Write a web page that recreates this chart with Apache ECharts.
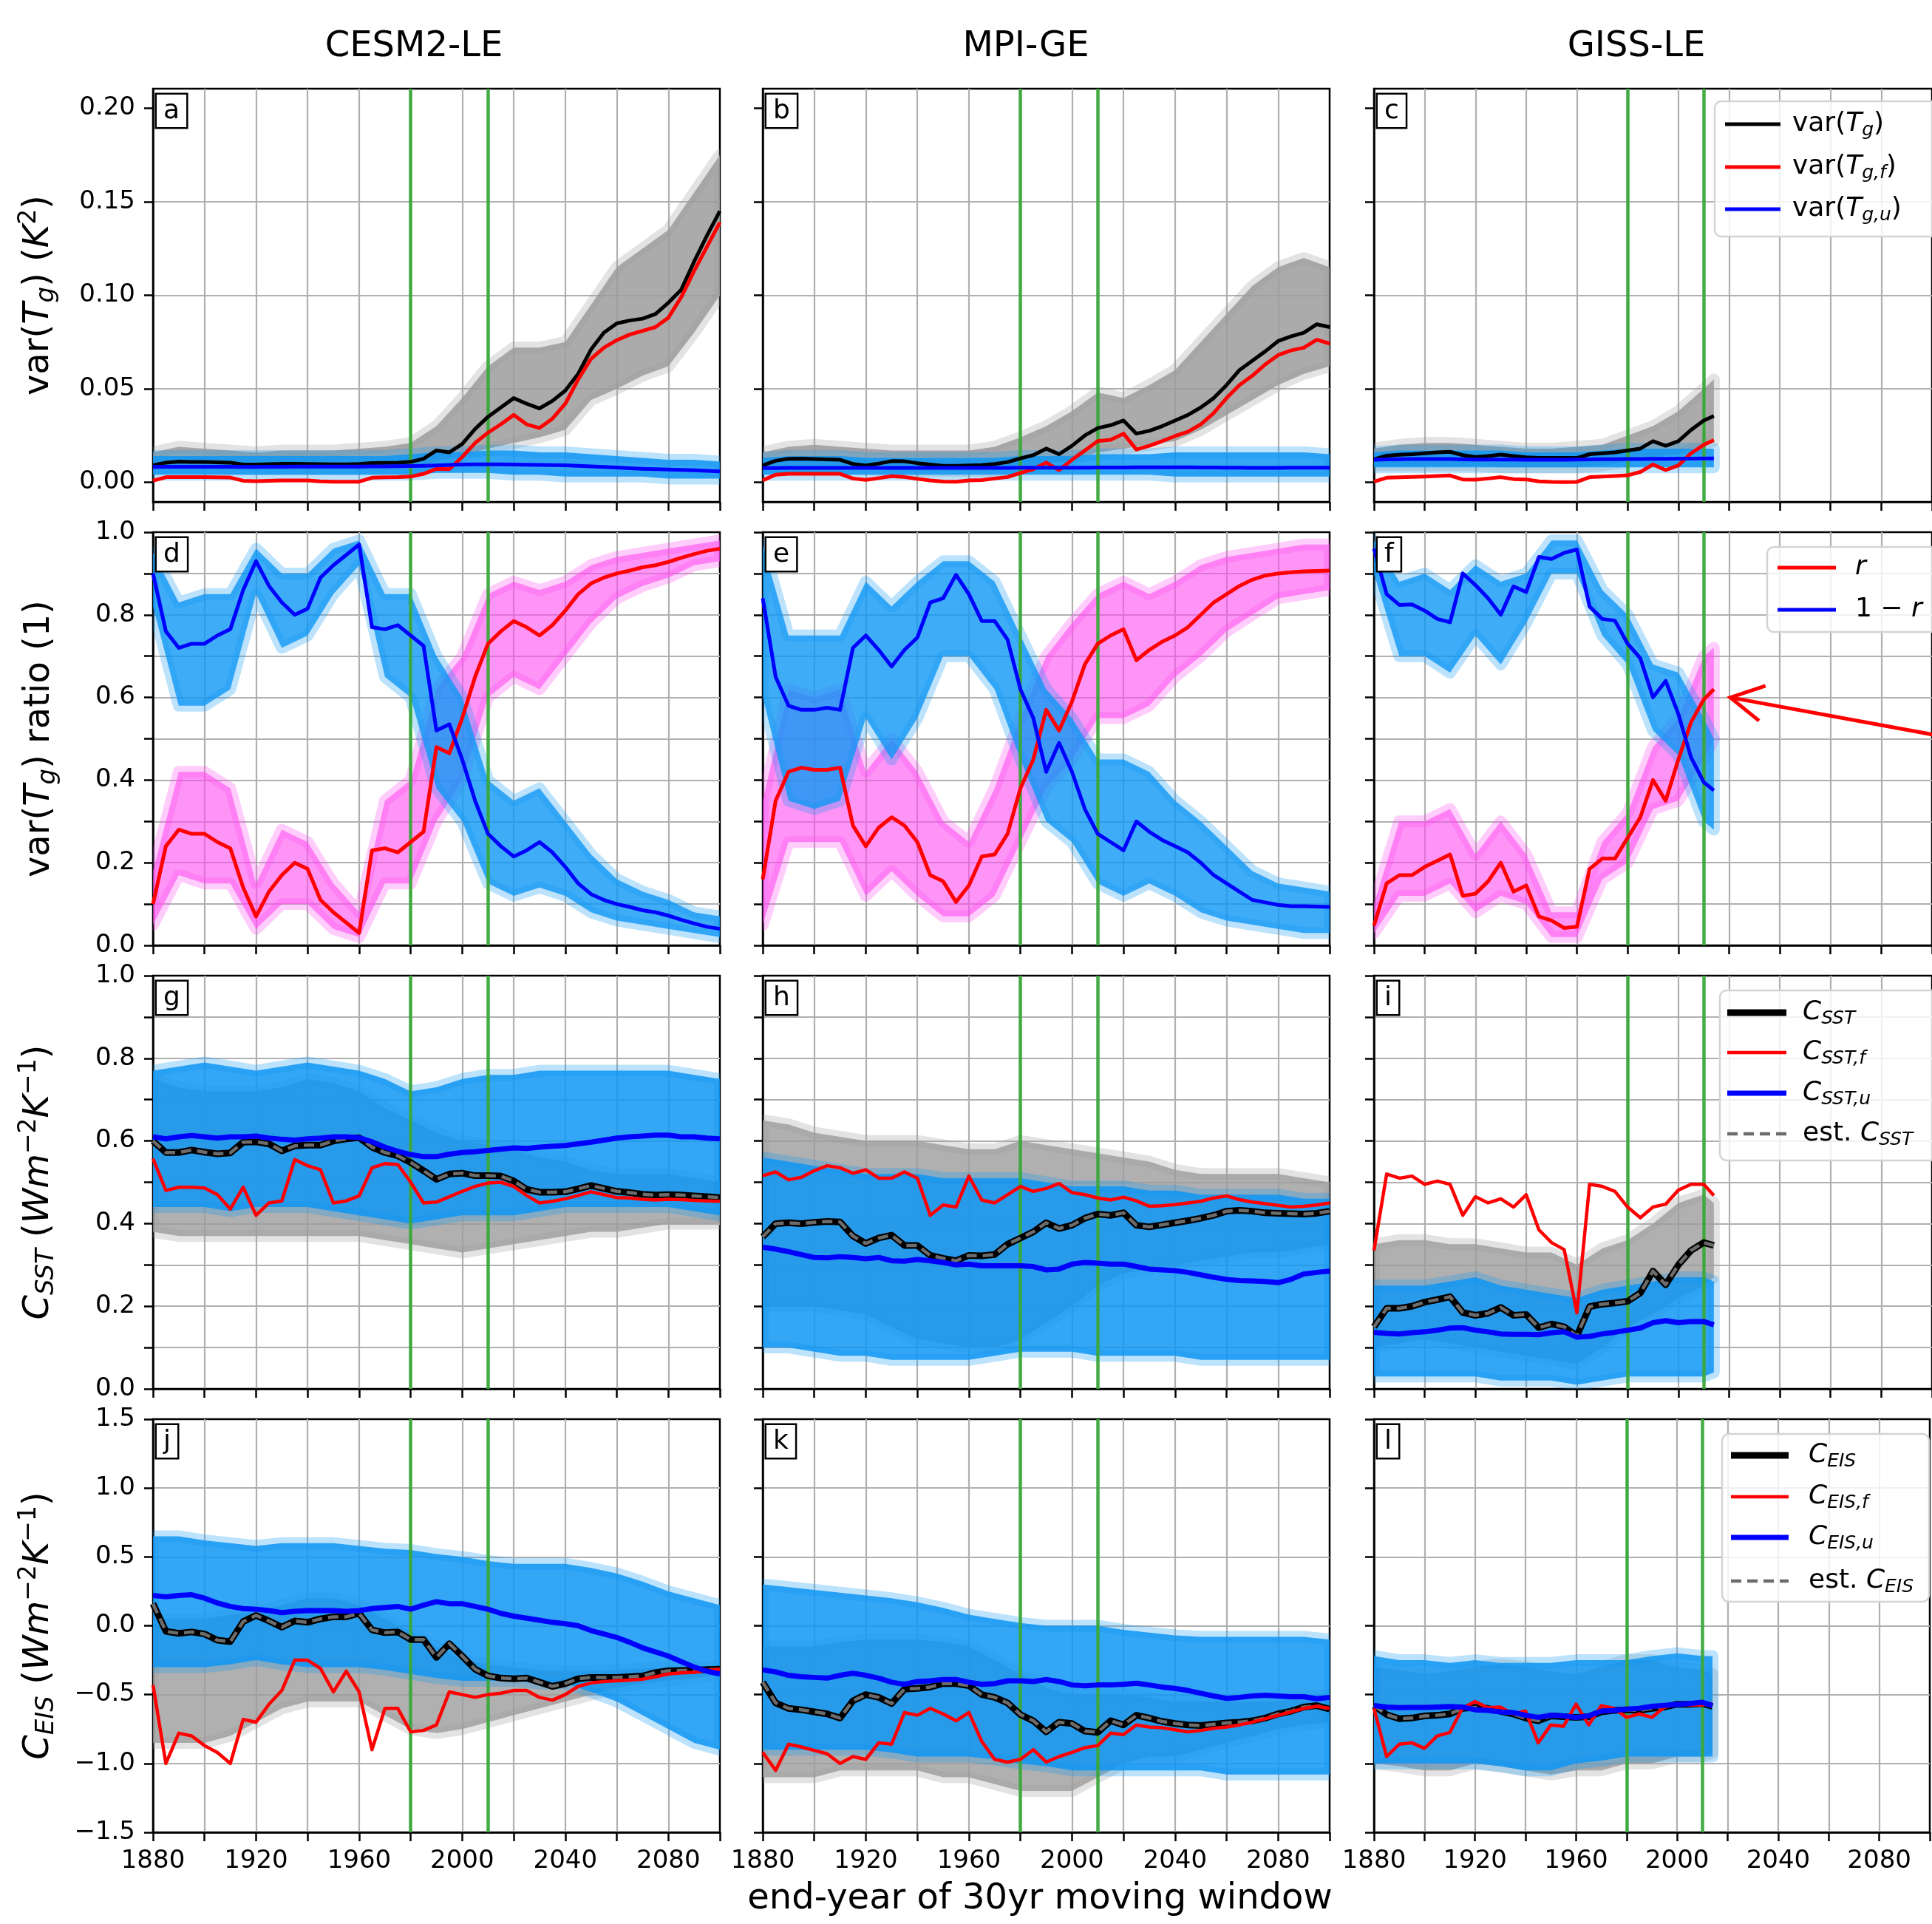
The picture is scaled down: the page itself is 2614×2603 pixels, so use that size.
<!DOCTYPE html>
<html>
<head>
<meta charset="utf-8">
<script src="https://cdn.jsdelivr.net/npm/echarts@6/dist/echarts.min.js"></script>
<style>
html,body{margin:0;padding:0;background:#fff}
#chart{width:2614px;height:2603px}
</style>
</head>
<body>
<div id="chart"></div>
<script>
// years of the ensemble-mean curves (5-yr steps) and of the member envelopes (10-yr steps)
var YEARS = [1880,1885,1890,1895,1900,1905,1910,1915,1920,1925,1930,1935,1940,1945,1950,1955,1960,1965,1970,1975,1980,1985,1990,1995,2000,2005,2010,2015,2020,2025,2030,2035,2040,2045,2050,2055,2060,2065,2070,2075,2080,2085,2090,2095,2100];
var YEARS_GISS = [1880,1885,1890,1895,1900,1905,1910,1915,1920,1925,1930,1935,1940,1945,1950,1955,1960,1965,1970,1975,1980,1985,1990,1995,2000,2005,2010,2014];
var BAND_YEARS = [1880,1890,1900,1910,1920,1930,1940,1950,1960,1970,1980,1990,2000,2010,2020,2030,2040,2050,2060,2070,2080,2090,2100];
var BAND_YEARS_GISS = [1880,1890,1900,1910,1920,1930,1940,1950,1960,1970,1980,1990,2000,2010,2014];
var REF_YEARS = [1980, 2010];
var X_TICKS_LABELLED = [1880,1920,1960,2000,2040,2080];

// ---- row 1: var(Tg)
var A_TG  = [.0091,.0105,.0110,.0108,.0108, .0107,.0105,.0095,.0095,.0097, .0099,.0099,.0098,.0097,.0096, .0096,.0098,.0103,.0104,.0105, .0109,.0126,.0170,.0160,.0205, .0285,.0350,.0400,.0450,.0420, .0395,.0435,.0490,.0580,.0710, .0800,.0850,.0865,.0875,.0900, .0960,.1030,.1180,.1320,.1450];
var A_TGF = [.0008,.0027,.0027,.0027,.0027, .0026,.0025,.0008,.0006,.0008, .0010,.0010,.0010,.0005,.0003, .0003,.0003,.0024,.0026,.0027, .0030,.0045,.0072,.0070,.0135, .0210,.0265,.0310,.0360,.0310, .0290,.0340,.0420,.0550,.0660, .0720,.0760,.0790,.0810,.0830, .0880,.0990,.1130,.1260,.1390];
var A_TGU = [.0082,.0083,.0083,.0083,.0083, .0083,.0083,.0082,.0082,.0083, .0083,.0084,.0084,.0084,.0084, .0084,.0084,.0085,.0085,.0086, .0087,.0088,.0090,.0093,.0095, .0096,.0096,.0096,.0095,.0094, .0093,.0092,.0091,.0088,.0085, .0082,.0079,.0075,.0072,.0070, .0068,.0066,.0064,.0061,.0058];
var A_GRAY_LO = [.007,.008,.008,.007,.007,.007,.007,.007,.007,.008,.008,.011,.014,.018,.021,.024,.028,.044,.05,.057,.062,.08,.10];
var A_GRAY_HI = [.016,.019,.018,.017,.016,.017,.017,.017,.018,.019,.021,.03,.045,.062,.072,.072,.075,.095,.115,.125,.135,.155,.175];
var A_BLUE_LO = [.004,.004,.004,.004,.004,.004,.004,.004,.004,.004,.004,.005,.005,.005,.004,.004,.003,.003,.003,.003,.002,.002,.002];
var A_BLUE_HI = [.014,.014,.014,.014,.014,.014,.014,.014,.014,.014,.015,.016,.016,.017,.017,.016,.016,.015,.014,.013,.012,.012,.011];

var B_TG  = [.0090,.0115,.0125,.0126,.0124, .0122,.0120,.0098,.0090,.0100, .0113,.0112,.0102,.0095,.0088, .0088,.0090,.0092,.0098,.0108, .0128,.0145,.0180,.0150,.0195, .0250,.0290,.0305,.0330,.0260, .0275,.0300,.0330,.0360,.0400, .0450,.0520,.0600,.0650,.0700, .0755,.0780,.0800,.0845,.0830];
var B_TGF = [.0010,.0040,.0045,.0045,.0045, .0045,.0045,.0020,.0013,.0022, .0032,.0028,.0018,.0010,.0004, .0003,.0010,.0012,.0020,.0028, .0050,.0070,.0105,.0065,.0120, .0170,.0220,.0227,.0260,.0175, .0195,.0220,.0247,.0270,.0310, .0370,.0450,.0520,.0570,.0630, .0680,.0705,.0720,.0762,.0742];
var B_TGU = [.0076,.0076,.0077,.0077,.0077, .0077,.0077,.0077,.0077,.0077, .0077,.0077,.0077,.0077,.0077, .0077,.0077,.0077,.0077,.0077, .0078,.0078,.0078,.0078,.0078, .0078,.0079,.0079,.0079,.0080, .0080,.0080,.0080,.0080,.0079, .0079,.0078,.0078,.0077,.0077, .0077,.0078,.0078,.0078,.0078];
var B_GRAY_LO = [.007,.008,.008,.007,.007,.006,.006,.006,.006,.006,.008,.01,.012,.016,.018,.02,.022,.028,.036,.044,.052,.058,.062];
var B_GRAY_HI = [.016,.019,.02,.019,.018,.017,.017,.017,.017,.019,.024,.03,.038,.048,.045,.052,.06,.075,.09,.105,.115,.12,.115];
var B_BLUE_LO = [.004,.004,.004,.004,.004,.004,.004,.004,.004,.004,.004,.004,.004,.004,.004,.004,.003,.003,.003,.003,.003,.003,.003];
var B_BLUE_HI = [.013,.014,.014,.014,.013,.013,.013,.013,.013,.013,.014,.014,.014,.015,.015,.015,.016,.016,.016,.016,.016,.016,.015];

var C_TG  = [.0123,.0142,.0147,.0150,.0155, .0160,.0163,.0145,.0135,.0140, .0148,.0140,.0133,.0130,.0130, .0130,.0130,.0150,.0155,.0160, .0170,.0180,.0220,.0195,.0220, .0280,.0330,.0355];
var C_TGF = [.0003,.0024,.0026,.0028,.0030, .0033,.0036,.0015,.0014,.0020, .0027,.0017,.0015,.0005,.0002, .0001,.0002,.0027,.0030,.0033, .0037,.0055,.0095,.0065,.0090, .0155,.0200,.0225];
var C_TGU = [.0120,.0122,.0123,.0124,.0124, .0124,.0124,.0122,.0121,.0121, .0121,.0121,.0120,.0120,.0120, .0120,.0121,.0122,.0123,.0123, .0124,.0124,.0125,.0125,.0126, .0126,.0127,.0127];
var C_GRAY_LO = [.009,.009,.009,.009,.009,.008,.008,.008,.008,.009,.011,.013,.015,.02,.022];
var C_GRAY_HI = [.018,.02,.021,.021,.02,.019,.018,.018,.019,.02,.025,.03,.038,.05,.055];
var C_BLUE_LO = [.008,.008,.008,.008,.008,.008,.008,.008,.008,.008,.008,.008,.008,.008,.008];
var C_BLUE_HI = [.016,.017,.017,.017,.017,.017,.016,.016,.016,.017,.018,.018,.018,.018,.018];

// ---- row 2: ratio r and 1-r
var D_R  = [.10,.24,.28,.27,.27, .25,.235,.14,.07,.13, .17,.20,.185,.11,.08, .055,.03,.23,.235,.225, .25,.275,.48,.465,.55, .65,.73,.76,.785,.77, .75,.775,.81,.85,.876, .89,.90,.907,.915,.92, .928,.938,.947,.955,.96];
var D_1R = [.90,.76,.72,.73,.73, .75,.765,.86,.93,.87, .83,.80,.815,.89,.92, .945,.97,.77,.765,.775, .75,.725,.52,.535,.45, .35,.27,.24,.215,.23, .25,.225,.19,.15,.124, .11,.10,.093,.085,.08, .072,.062,.053,.045,.04];
var D_BLUE_LO = [.82,.58,.58,.62,.85,.72,.75,.85,.92,.65,.6,.38,.3,.15,.12,.14,.12,.08,.06,.05,.04,.03,.02];
var D_BLUE_HI = [.95,.83,.85,.85,.96,.9,.9,.96,.98,.85,.85,.7,.6,.4,.35,.38,.3,.22,.16,.13,.11,.08,.07];
var D_PINK_LO = [.05,.17,.15,.15,.04,.1,.1,.04,.02,.15,.15,.3,.4,.6,.65,.62,.7,.78,.84,.87,.89,.92,.93];
var D_PINK_HI = [.18,.42,.42,.38,.15,.28,.25,.15,.08,.35,.4,.62,.7,.85,.88,.86,.88,.92,.94,.95,.96,.97,.98];

var E_R  = [.16,.35,.42,.43,.425, .425,.43,.29,.24,.285, .31,.29,.25,.17,.155, .105,.145,.215,.22,.27, .38,.45,.57,.52,.59, .68,.73,.75,.765,.69, .715,.735,.75,.77,.80, .83,.85,.87,.885,.895, .90,.903,.905,.906,.907];
var E_1R = [.84,.65,.58,.57,.57, .575,.57,.72,.75,.715, .675,.715,.745,.83,.84, .897,.85,.785,.785,.74, .62,.55,.42,.49,.42, .33,.27,.25,.23,.30, .275,.255,.24,.225,.20, .17,.15,.13,.11,.104, .098,.095,.095,.094,.093];
var E_BLUE_LO = [.6,.35,.33,.35,.55,.45,.55,.7,.7,.62,.45,.3,.25,.15,.12,.15,.12,.08,.06,.05,.04,.03,.03];
var E_BLUE_HI = [.97,.75,.75,.75,.88,.82,.88,.93,.93,.88,.75,.62,.55,.45,.45,.42,.35,.3,.24,.18,.15,.14,.13];
var E_PINK_LO = [.05,.25,.25,.25,.12,.18,.12,.07,.07,.12,.25,.38,.45,.55,.55,.58,.65,.7,.76,.8,.84,.85,.86];
var E_PINK_HI = [.35,.62,.6,.62,.42,.5,.42,.3,.25,.38,.55,.7,.78,.85,.88,.85,.88,.92,.94,.95,.96,.97,.97];

var F_R  = [.048,.15,.17,.17,.19, .205,.22,.12,.125,.155, .20,.13,.145,.07,.06, .042,.045,.185,.21,.21, .26,.31,.40,.35,.45, .54,.595,.62];
var F_1R = [.96,.85,.824,.825,.81, .79,.782,.90,.872,.84, .80,.869,.855,.94,.935, .95,.958,.82,.79,.786, .73,.695,.60,.64,.56, .455,.395,.375];
var F_BLUE_LO = [.9,.7,.7,.66,.75,.68,.78,.9,.9,.75,.68,.52,.46,.3,.28];
var F_BLUE_HI = [.98,.88,.9,.86,.92,.88,.9,.98,.98,.86,.8,.68,.66,.55,.5];
var F_PINK_LO = [.03,.12,.12,.15,.08,.12,.1,.02,.02,.16,.2,.33,.35,.45,.5];
var F_PINK_HI = [.1,.3,.3,.33,.22,.3,.22,.08,.08,.25,.32,.48,.55,.7,.72];

// ---- row 3: C_SST
var G_C   = [.60,.572,.572,.578,.573, .569,.571,.597,.598,.593, .576,.588,.59,.59,.60, .605,.608,.585,.572,.564, .548,.528,.507,.52,.522, .516,.516,.515,.503,.483, .476,.476,.477,.484,.492, .485,.478,.475,.471,.469, .47,.469,.467,.465,.463];
var G_EST = [.60,.572,.572,.578,.573, .569,.571,.597,.598,.593, .576,.588,.59,.59,.60, .605,.608,.585,.572,.564, .548,.528,.507,.52,.522, .516,.516,.515,.503,.483, .476,.476,.477,.484,.492, .485,.478,.475,.471,.469, .47,.469,.467,.465,.463];
var G_CF  = [.557,.48,.488,.488,.486, .47,.435,.488,.42,.45, .455,.555,.54,.53,.45, .455,.467,.535,.545,.543, .50,.45,.452,.465,.478, .49,.498,.50,.49,.468, .45,.454,.46,.468,.477, .47,.463,.462,.459,.457, .459,.458,.456,.455,.454];
var G_CU  = [.61,.605,.61,.613,.61, .607,.61,.61,.612,.607, .604,.602,.605,.607,.61, .61,.608,.598,.585,.575, .567,.562,.562,.568,.572, .574,.577,.58,.583,.582, .585,.587,.589,.593,.597, .602,.607,.61,.612,.614, .614,.61,.61,.607,.605];
var G_GRAY_LO = [.38,.37,.37,.37,.37,.37,.37,.37,.37,.36,.35,.34,.33,.34,.35,.36,.37,.38,.38,.39,.40,.40,.40];
var G_GRAY_HI = [.75,.73,.72,.72,.72,.73,.75,.74,.72,.68,.65,.62,.6,.59,.58,.56,.55,.53,.52,.52,.52,.51,.5];
var G_BLUE_LO = [.44,.44,.44,.43,.44,.44,.44,.43,.42,.41,.40,.41,.42,.42,.42,.43,.44,.44,.44,.44,.44,.43,.42];
var G_BLUE_HI = [.77,.78,.79,.78,.77,.78,.79,.78,.77,.75,.72,.73,.75,.76,.76,.77,.77,.77,.77,.77,.77,.76,.75];

var H_C   = [.368,.40,.402,.40,.403, .405,.404,.37,.352,.365, .372,.347,.347,.323,.316, .31,.323,.322,.325,.35, .365,.38,.402,.388,.396, .413,.423,.42,.426,.396, .392,.397,.402,.407,.413, .42,.43,.432,.43,.426, .425,.424,.423,.425,.43];
var H_EST = [.368,.40,.402,.40,.403, .405,.404,.37,.352,.365, .372,.347,.347,.323,.316, .31,.323,.322,.325,.35, .365,.38,.402,.388,.396, .413,.423,.42,.426,.396, .392,.397,.402,.407,.413, .42,.43,.432,.43,.426, .425,.424,.423,.425,.43];
var H_CF  = [.516,.525,.506,.512,.528, .54,.535,.522,.53,.51, .51,.525,.51,.42,.445, .44,.515,.457,.45,.47, .49,.478,.485,.497,.475, .47,.462,.457,.464,.455, .442,.443,.446,.45,.454, .462,.467,.458,.452,.448, .444,.44,.442,.445,.45];
var H_CU  = [.343,.338,.332,.325,.318, .317,.32,.318,.315,.318, .31,.309,.313,.31,.306, .30,.302,.298,.298,.298, .298,.296,.288,.29,.302, .306,.304,.302,.302,.296, .29,.288,.286,.282,.276, .27,.265,.262,.261,.26, .257,.265,.278,.282,.285];
var H_GRAY_LO = [.2,.2,.2,.19,.18,.15,.12,.11,.1,.1,.12,.16,.2,.25,.28,.29,.3,.31,.32,.33,.33,.34,.35];
var H_GRAY_HI = [.65,.64,.62,.61,.6,.6,.6,.59,.58,.58,.6,.59,.58,.57,.56,.55,.53,.52,.52,.52,.52,.51,.5];
var H_BLUE_LO = [.1,.1,.09,.08,.08,.07,.07,.07,.07,.08,.09,.09,.09,.08,.08,.08,.08,.07,.07,.07,.07,.07,.07];
var H_BLUE_HI = [.56,.55,.54,.53,.52,.52,.52,.51,.51,.51,.51,.5,.49,.49,.49,.48,.48,.47,.47,.47,.47,.46,.46];

var I_C   = [.15,.195,.195,.20,.21, .216,.223,.185,.178,.183, .197,.178,.18,.148,.157, .15,.128,.199,.205,.208, .212,.232,.285,.252,.30, .335,.354,.347];
var I_EST = [.15,.195,.195,.20,.21, .216,.223,.185,.178,.183, .197,.178,.18,.148,.157, .15,.128,.199,.205,.208, .212,.232,.285,.252,.30, .335,.354,.347];
var I_CF  = [.335,.52,.51,.515,.495, .503,.495,.42,.465,.45, .46,.44,.47,.385,.354, .337,.184,.495,.49,.478, .44,.414,.44,.447,.481, .495,.495,.468];
var I_CU  = [.137,.134,.133,.136,.138, .142,.147,.148,.142,.138, .133,.132,.132,.131,.136, .138,.125,.127,.133,.137, .142,.147,.16,.165,.16, .163,.163,.155];
var I_GRAY_LO = [.1,.11,.12,.11,.1,.09,.08,.07,.06,.1,.15,.18,.22,.25,.27];
var I_GRAY_HI = [.35,.36,.36,.35,.35,.34,.33,.33,.3,.34,.36,.4,.45,.47,.45];
var I_BLUE_LO = [.03,.03,.03,.03,.03,.02,.02,.02,.01,.02,.03,.03,.03,.03,.04];
var I_BLUE_HI = [.25,.25,.25,.26,.27,.25,.24,.23,.22,.24,.25,.26,.27,.27,.26];

// ---- row 4: C_EIS
var J_C   = [.16,-.04,-.055,-.045,-.06, -.105,-.115,.03,.075,.035, -.01,.035,.025,.05,.065, .065,.09,-.03,-.05,-.045, -.10,-.10,-.23,-.13,-.22, -.315,-.363,-.38,-.385,-.38, -.41,-.44,-.42,-.385,-.375, -.376,-.375,-.37,-.365,-.34, -.327,-.325,-.322,-.318,-.315];
var J_EST = [.16,-.04,-.055,-.045,-.06, -.105,-.115,.03,.075,.035, -.01,.035,.025,.05,.065, .065,.09,-.03,-.05,-.045, -.10,-.10,-.23,-.13,-.22, -.315,-.363,-.38,-.385,-.38, -.41,-.44,-.42,-.385,-.375, -.376,-.375,-.37,-.365,-.34, -.327,-.325,-.322,-.318,-.315];
var J_CF  = [-.43,-1.0,-.78,-.80,-.87, -.92,-1.0,-.68,-.70,-.57, -.47,-.25,-.25,-.31,-.48, -.33,-.48,-.90,-.60,-.60, -.77,-.76,-.72,-.48,-.50, -.52,-.50,-.49,-.47,-.47, -.52,-.54,-.50,-.44,-.415, -.405,-.40,-.395,-.388,-.37, -.35,-.342,-.338,-.325,-.315];
var J_CU  = [.22,.21,.22,.225,.20, .165,.14,.125,.12,.11, .095,.105,.11,.11,.11, .105,.11,.125,.133,.14, .12,.15,.175,.16,.16, .14,.12,.09,.07,.055, .04,.025,.015,.0,-.035, -.06,-.085,-.12,-.16,-.19, -.22,-.26,-.30,-.33,-.35];
var J_GRAY_LO = [-.85,-.85,-.85,-.8,-.7,-.6,-.55,-.55,-.55,-.65,-.75,-.78,-.75,-.7,-.65,-.6,-.55,-.5,-.45,-.42,-.4,-.38,-.36];
var J_GRAY_HI = [.05,.05,.05,.08,.1,.15,.2,.2,.15,.05,-.05,-.15,-.25,-.28,-.3,-.32,-.33,-.33,-.32,-.31,-.3,-.3,-.3];
var J_BLUE_LO = [-.3,-.3,-.3,-.28,-.25,-.28,-.3,-.3,-.3,-.32,-.35,-.38,-.4,-.4,-.4,-.42,-.42,-.48,-.55,-.65,-.75,-.85,-.9];
var J_BLUE_HI = [.65,.65,.62,.6,.58,.6,.6,.6,.58,.56,.55,.52,.5,.47,.45,.45,.45,.42,.38,.32,.25,.2,.15];

var K_C   = [-.41,-.56,-.60,-.61,-.625, -.64,-.67,-.545,-.50,-.52, -.565,-.46,-.455,-.445,-.42, -.42,-.435,-.50,-.52,-.56, -.645,-.69,-.77,-.70,-.71, -.765,-.774,-.69,-.72,-.65, -.67,-.695,-.71,-.72,-.725, -.715,-.706,-.70,-.69,-.67, -.64,-.62,-.59,-.58,-.605];
var K_EST = [-.41,-.56,-.60,-.61,-.625, -.64,-.67,-.545,-.50,-.52, -.565,-.46,-.455,-.445,-.42, -.42,-.435,-.50,-.52,-.56, -.645,-.69,-.77,-.70,-.71, -.765,-.774,-.69,-.72,-.65, -.67,-.695,-.71,-.72,-.725, -.715,-.706,-.70,-.69,-.67, -.64,-.62,-.59,-.58,-.605];
var K_CF  = [-.92,-1.05,-.86,-.88,-.905, -.93,-1.0,-.95,-.97,-.85, -.86,-.63,-.65,-.60,-.64, -.69,-.63,-.84,-.97,-.99, -.97,-.90,-.99,-.95,-.92, -.885,-.87,-.78,-.79,-.72, -.735,-.74,-.755,-.77,-.76, -.745,-.735,-.72,-.70,-.675, -.65,-.625,-.60,-.585,-.60];
var K_CU  = [-.32,-.335,-.36,-.37,-.375, -.38,-.36,-.345,-.36,-.38, -.41,-.425,-.405,-.40,-.39, -.39,-.41,-.425,-.42,-.40, -.40,-.405,-.39,-.405,-.43, -.436,-.43,-.43,-.425,-.417, -.43,-.445,-.455,-.47,-.49, -.51,-.527,-.52,-.51,-.505, -.51,-.515,-.515,-.53,-.52];
var K_GRAY_LO = [-1.1,-1.1,-1.1,-1.05,-1.05,-1.05,-1.05,-1.1,-1.1,-1.15,-1.2,-1.2,-1.2,-1.1,-1.0,-.95,-.95,-.9,-.85,-.8,-.75,-.72,-.7];
var K_GRAY_HI = [-.15,-.15,-.15,-.12,-.1,-.1,-.1,-.12,-.15,-.25,-.35,-.45,-.5,-.5,-.5,-.52,-.55,-.55,-.55,-.55,-.55,-.52,-.5];
var K_BLUE_LO = [-.9,-.9,-.9,-.9,-.9,-.92,-.95,-.95,-.95,-.97,-1.0,-1.02,-1.05,-1.05,-1.05,-1.05,-1.05,-1.05,-1.08,-1.08,-1.08,-1.08,-1.08];
var K_BLUE_HI = [.3,.28,.26,.24,.22,.2,.17,.13,.08,.05,.02,0,0,0,-.03,-.05,-.07,-.08,-.08,-.08,-.08,-.08,-.1];

var L_C   = [-.58,-.645,-.675,-.67,-.655, -.65,-.64,-.60,-.593,-.60, -.62,-.64,-.67,-.69,-.655, -.66,-.665,-.66,-.625,-.615, -.61,-.615,-.60,-.59,-.57, -.57,-.565,-.585];
var L_EST = [-.58,-.645,-.675,-.67,-.655, -.65,-.64,-.60,-.593,-.60, -.62,-.64,-.67,-.69,-.655, -.66,-.665,-.66,-.625,-.615, -.61,-.615,-.60,-.59,-.57, -.57,-.565,-.585];
var L_CF  = [-.60,-.95,-.86,-.85,-.89, -.80,-.775,-.60,-.55,-.595, -.59,-.64,-.62,-.85,-.72, -.73,-.57,-.72,-.58,-.60, -.665,-.64,-.665,-.59,-.57, -.575,-.575,-.565];
var L_CU  = [-.58,-.59,-.595,-.593,-.593, -.59,-.586,-.59,-.61,-.615, -.625,-.63,-.65,-.665,-.65, -.655,-.665,-.655,-.62,-.615, -.605,-.60,-.585,-.578,-.572, -.565,-.556,-.58];
var L_GRAY_LO = [-1.0,-1.02,-1.05,-1.05,-1.0,-1.02,-1.05,-1.08,-1.05,-1.05,-1.0,-1.0,-.95,-.95,-.92];
var L_GRAY_HI = [-.3,-.32,-.35,-.33,-.3,-.28,-.3,-.33,-.35,-.3,-.25,-.25,-.3,-.32,-.35];
var L_BLUE_LO = [-1.0,-1.0,-1.0,-1.0,-1.0,-1.02,-1.05,-1.05,-1.0,-.98,-.95,-.95,-.95,-.95,-.95];
var L_BLUE_HI = [-.22,-.25,-.25,-.27,-.25,-.27,-.27,-.27,-.25,-.25,-.25,-.22,-.2,-.22,-.22];

var ROW1_TICKS = [0, 0.05, 0.10, 0.15, 0.20];

// ---- layout and styles
var FONT = 'DejaVu Sans';
var COL_LEFT = [207, 1032, 1859];
var ROW_TOP = [120, 720, 1320, 1920];
var GW = 767, GH = 559;
var GRAY = '#9c9c9c', SKY = '#0f97f5', PINK = '#ff4cf2';
var BLACK = '#000000', RED = '#ff0000', BLUE = '#0000ff', EST = '#6c6c6c';

var panels = [
  {L:'a', r:0, c:0, x:YEARS, bx:BAND_YEARS, bands:[[A_GRAY_LO,A_GRAY_HI,GRAY,.85],[A_BLUE_LO,A_BLUE_HI,SKY,.85]],
   lines:[[A_TG,BLACK,5],[A_TGF,RED,5],[A_TGU,BLUE,5]]},
  {L:'b', r:0, c:1, x:YEARS, bx:BAND_YEARS, bands:[[B_GRAY_LO,B_GRAY_HI,GRAY,.85],[B_BLUE_LO,B_BLUE_HI,SKY,.85]],
   lines:[[B_TG,BLACK,5],[B_TGF,RED,5],[B_TGU,BLUE,5]]},
  {L:'c', r:0, c:2, x:YEARS_GISS, bx:BAND_YEARS_GISS, bands:[[C_GRAY_LO,C_GRAY_HI,GRAY,.85],[C_BLUE_LO,C_BLUE_HI,SKY,.85]],
   lines:[[C_TG,BLACK,5],[C_TGF,RED,5],[C_TGU,BLUE,5]]},
  {L:'d', r:1, c:0, x:YEARS, bx:BAND_YEARS, bands:[[D_PINK_LO,D_PINK_HI,PINK,.6],[D_BLUE_LO,D_BLUE_HI,SKY,.8]],
   lines:[[D_R,RED,5],[D_1R,BLUE,5]]},
  {L:'e', r:1, c:1, x:YEARS, bx:BAND_YEARS, bands:[[E_PINK_LO,E_PINK_HI,PINK,.6],[E_BLUE_LO,E_BLUE_HI,SKY,.8]],
   lines:[[E_R,RED,5],[E_1R,BLUE,5]]},
  {L:'f', r:1, c:2, x:YEARS_GISS, bx:BAND_YEARS_GISS, bands:[[F_PINK_LO,F_PINK_HI,PINK,.6],[F_BLUE_LO,F_BLUE_HI,SKY,.8]],
   lines:[[F_R,RED,5],[F_1R,BLUE,5]]},
  {L:'g', r:2, c:0, x:YEARS, bx:BAND_YEARS, bands:[[G_GRAY_LO,G_GRAY_HI,GRAY,.8],[G_BLUE_LO,G_BLUE_HI,SKY,.85]],
   lines:[[G_C,BLACK,9],[G_EST,EST,4.5,[14,8]],[G_CF,RED,4.5],[G_CU,BLUE,7]]},
  {L:'h', r:2, c:1, x:YEARS, bx:BAND_YEARS, bands:[[H_GRAY_LO,H_GRAY_HI,GRAY,.8],[H_BLUE_LO,H_BLUE_HI,SKY,.85]],
   lines:[[H_C,BLACK,9],[H_EST,EST,4.5,[14,8]],[H_CF,RED,4.5],[H_CU,BLUE,7]]},
  {L:'i', r:2, c:2, x:YEARS_GISS, bx:BAND_YEARS_GISS, bands:[[I_GRAY_LO,I_GRAY_HI,GRAY,.8],[I_BLUE_LO,I_BLUE_HI,SKY,.85]],
   lines:[[I_C,BLACK,9],[I_EST,EST,4.5,[14,8]],[I_CF,RED,4.5],[I_CU,BLUE,7]]},
  {L:'j', r:3, c:0, x:YEARS, bx:BAND_YEARS, bands:[[J_GRAY_LO,J_GRAY_HI,GRAY,.8],[J_BLUE_LO,J_BLUE_HI,SKY,.85]],
   lines:[[J_C,BLACK,9],[J_EST,EST,4.5,[14,8]],[J_CF,RED,4.5],[J_CU,BLUE,7]]},
  {L:'k', r:3, c:1, x:YEARS, bx:BAND_YEARS, bands:[[K_GRAY_LO,K_GRAY_HI,GRAY,.8],[K_BLUE_LO,K_BLUE_HI,SKY,.85]],
   lines:[[K_C,BLACK,9],[K_EST,EST,4.5,[14,8]],[K_CF,RED,4.5],[K_CU,BLUE,7]]},
  {L:'l', r:3, c:2, x:YEARS_GISS, bx:BAND_YEARS_GISS, bands:[[L_GRAY_LO,L_GRAY_HI,GRAY,.8],[L_BLUE_LO,L_BLUE_HI,SKY,.85]],
   lines:[[L_C,BLACK,9],[L_EST,EST,4.5,[14,8]],[L_CF,RED,4.5],[L_CU,BLUE,7]]}
];

// quick check that every array matches its years
panels.forEach(function (p) {
  p.lines.forEach(function (l) { if (l[0].length !== p.x.length) throw new Error('panel ' + p.L + ' line length ' + l[0].length); });
  p.bands.forEach(function (b) { if (b[0].length !== p.bx.length || b[1].length !== p.bx.length) throw new Error('panel ' + p.L + ' band length'); });
});

var RICH_BIG = {
  n: {fontFamily: FONT, fontSize: 48, color: '#000'},
  i: {fontFamily: FONT, fontSize: 48, fontStyle: 'italic', color: '#000'},
  s: {fontFamily: FONT, fontSize: 34, fontStyle: 'italic', color: '#000', padding: [22, 0, 0, 0]},
  p: {fontFamily: FONT, fontSize: 33, color: '#000', padding: [0, 0, 26, 0]}
};
var RICH_LEG = {
  n: {fontFamily: FONT, fontSize: 36, color: '#000'},
  i: {fontFamily: FONT, fontSize: 36, fontStyle: 'italic', color: '#000'},
  s: {fontFamily: FONT, fontSize: 25, fontStyle: 'italic', color: '#000', padding: [17, 0, 0, 0]}
};

var ROW_NAMES = [
  '{n|var(}{i|T}{s|g}{n|) (}{i|K}{p|2}{n|)}',
  '{n|var(}{i|T}{s|g}{n|) ratio (1)}',
  '{i|C}{s|SST}{n| (}{i|Wm}{p|−2}{i|K}{p|−1}{n|)}',
  '{i|C}{s|EIS}{n| (}{i|Wm}{p|−2}{i|K}{p|−1}{n|)}'
];

function yCfg(row) {
  if (row === 0) return {min: -0.0105, max: 0.2105, ticks: ROW1_TICKS, fmt: function (v) { return v.toFixed(2); }};
  if (row === 3) return {min: -1.5, max: 1.5, interval: 0.5, fmt: function (v) { return v.toFixed(1).replace('-', '\u2212'); }};
  return {min: 0, max: 1, interval: 0.1, fmt: function (v) { return Math.round(v * 10) % 2 === 0 ? v.toFixed(1) : ''; }};
}

// member spread: filled envelope, its edge softened by a wide translucent stroke
function bandSeries(gi, xs, lo, hi, color, op) {
  return {
    type: 'custom', xAxisIndex: gi, yAxisIndex: gi, silent: true, z: 2, clip: true,
    data: xs.map(function (x, i) { return [x, lo[i], hi[i]]; }),
    encode: {x: 0, y: [1, 2]},
    renderItem: function (params, api) {
      if (params.dataIndex !== 0) return;
      var pts = [];
      for (var i = 0; i < xs.length; i++) pts.push(api.coord([xs[i], hi[i]]));
      for (var j = xs.length - 1; j >= 0; j--) pts.push(api.coord([xs[j], lo[j]]));
      return {type: 'polygon', shape: {points: pts},
        style: {fill: color, fillOpacity: op, stroke: color, strokeOpacity: 0.28, lineWidth: 16, lineJoin: 'round'}};
    }
  };
}

function lineSeries(gi, xs, ys, color, width, dash) {
  return {
    type: 'line', xAxisIndex: gi, yAxisIndex: gi, silent: true, z: 10,
    data: xs.map(function (x, i) { return [x, ys[i]]; }),
    showSymbol: false, symbol: 'none',
    lineStyle: {color: color, width: width, type: dash || 'solid', cap: 'butt', join: 'round'}
  };
}

var grids = [], xAxes = [], yAxes = [], series = [];
panels.forEach(function (p, gi) {
  var yc = yCfg(p.r);
  grids.push({left: COL_LEFT[p.c], top: ROW_TOP[p.r], width: GW, height: GH,
    show: true, borderColor: '#000', borderWidth: 2.5, backgroundColor: 'transparent'});
  xAxes.push({
    gridIndex: gi, type: 'value', min: 1880, max: 2100, interval: 20,
    axisLine: {show: true, onZero: false, lineStyle: {color: '#000', width: 2.5}},
    axisTick: {show: true, length: 12, lineStyle: {color: '#000', width: 2.5}},
    axisLabel: {show: p.r === 3, margin: 22, fontFamily: FONT, fontSize: 34, color: '#000',
      formatter: function (v) { return X_TICKS_LABELLED.indexOf(v) >= 0 ? String(v) : ''; }},
    splitLine: {show: true, showMinLine: false, showMaxLine: false, lineStyle: {color: '#b0b0b0', width: 2.2}}
  });
  var ya = {
    gridIndex: gi, type: 'value', min: yc.min, max: yc.max,
    axisLine: {show: true, onZero: false, lineStyle: {color: '#000', width: 2.5}},
    axisTick: {show: true, length: 12, lineStyle: {color: '#000', width: 2.5}},
    axisLabel: {show: p.c === 0, margin: 24, fontFamily: FONT, fontSize: 34, color: '#000', formatter: yc.fmt},
    splitLine: {show: true, showMinLine: false, showMaxLine: false, lineStyle: {color: '#b0b0b0', width: 2.2}}
  };
  if (yc.interval) ya.interval = yc.interval;
  if (yc.ticks) { ya.axisTick.customValues = yc.ticks; ya.axisLabel.customValues = yc.ticks; }
  if (p.c === 0) {
    ya.name = ROW_NAMES[p.r];
    ya.nameLocation = 'middle';
    ya.nameRotate = 90;
    ya.nameGap = 125;
    ya.nameTextStyle = {fontFamily: FONT, fontSize: 48, color: '#000', rich: RICH_BIG};
  }
  yAxes.push(ya);

  p.bands.forEach(function (b) { series.push(bandSeries(gi, p.bx, b[0], b[1], b[2], b[3])); });
  p.lines.forEach(function (l, k) {
    var s = lineSeries(gi, p.x, l[0], l[1], l[2], l[3]);
    if (k === 0) {
      s.markLine = {silent: true, symbol: ['none', 'none'], label: {show: false}, animation: false,
        lineStyle: {color: '#3aa83a', width: 4.5, type: 'solid', opacity: 0.95},
        data: REF_YEARS.map(function (y) { return {xAxis: y}; })};
    }
    series.push(s);
  });
});

var chart = echarts.init(document.getElementById('chart'), null, {renderer: 'canvas', width: 2614, height: 2603});
chart.setOption({animation: false, backgroundColor: '#fff', grid: grids, xAxis: xAxes, yAxis: yAxes, series: series});

// ---- titles, panel letters, legends, arrow
var G = [];
function txt(x, y, text, size, align, rich) {
  var st = {text: text, x: 0, y: 0, fontFamily: FONT, fontSize: size, fill: '#000',
    align: align || 'center', textAlign: align || 'center', verticalAlign: 'middle', textVerticalAlign: 'middle'};
  if (rich) st.rich = rich;
  return {type: 'text', x: x, y: y, z: 100, style: st};
}
G.push(txt(560, 64, 'CESM2-LE', 48));
G.push(txt(1388, 64, 'MPI-GE', 48));
G.push(txt(2214, 64, 'GISS-LE', 48));
G.push(txt(1407, 2570, 'end-year of 30yr moving window', 48));

panels.forEach(function (p) {
  G.push({type: 'text', x: COL_LEFT[p.c] + 5, y: ROW_TOP[p.r] + 8, z: 100,
    style: {text: p.L, fontFamily: FONT, fontSize: 36, fill: '#000', align: 'left', verticalAlign: 'top',
      textAlign: 'left', textVerticalAlign: 'top',
      backgroundColor: '#fff', borderColor: '#000', borderWidth: 2.5, padding: [5, 9, 3, 9]}});
});

function legend(box, hx, tx, items) {
  G.push({type: 'rect', z: 90, shape: {x: box[0], y: box[1], width: box[2], height: box[3], r: 9},
    style: {fill: 'rgba(255,255,255,0.82)', stroke: '#d4d4d4', lineWidth: 2.5}});
  items.forEach(function (it) {
    var ls = {stroke: it[1], lineWidth: it[2]};
    if (it[3]) ls.lineDash = it[3];
    G.push({type: 'line', z: 91, shape: {x1: hx[0], y1: it[0], x2: hx[1], y2: it[0]}, style: ls});
    G.push(txt(tx, it[0], it[4], 36, 'left', RICH_LEG));
  });
}
legend([2320, 137, 320, 183], [2334, 2409], 2425, [
  [168, BLACK, 5, null, '{n|var(}{i|T}{s|g}{n|)}'],
  [226, RED, 5, null, '{n|var(}{i|T}{s|g,f}{n|)}'],
  [283, BLUE, 5, null, '{n|var(}{i|T}{s|g,u}{n|)}']
]);
legend([2391, 740, 260, 115], [2405, 2484], 2510, [
  [768, RED, 5, null, '{i|r}'],
  [825, BLUE, 5, null, '{n|1 − }{i|r}']
]);
legend([2327, 1340, 310, 230], [2337, 2417], 2439, [
  [1370, BLACK, 9, null, '{i|C}{s|SST}'],
  [1424, RED, 4.5, null, '{i|C}{s|SST,f}'],
  [1479, BLUE, 7, null, '{i|C}{s|SST,u}'],
  [1534, EST, 4.5, [14, 8], '{n|est. }{i|C}{s|SST}']
]);
legend([2330, 1940, 280, 227], [2342, 2420], 2447, [
  [1969, BLACK, 9, null, '{i|C}{s|EIS}'],
  [2025, RED, 4.5, null, '{i|C}{s|EIS,f}'],
  [2080, BLUE, 7, null, '{i|C}{s|EIS,u}'],
  [2139, EST, 4.5, [14, 8], '{n|est. }{i|C}{s|EIS}']
]);

// red arrow pointing at the end of the GISS r curve
var tip = chart.convertToPixel({gridIndex: 5}, [2020.5, 0.60]);
var ang = Math.atan2(55, 300);
var arm = 50, spread = 0.5;
G.push({type: 'line', z: 95, shape: {x1: tip[0], y1: tip[1], x2: tip[0] + 300, y2: tip[1] + 55},
  style: {stroke: RED, lineWidth: 5}});
G.push({type: 'polyline', z: 95, shape: {points: [
  [tip[0] + arm * Math.cos(ang - spread), tip[1] + arm * Math.sin(ang - spread)],
  [tip[0], tip[1]],
  [tip[0] + arm * Math.cos(ang + spread), tip[1] + arm * Math.sin(ang + spread)]]},
  style: {stroke: RED, lineWidth: 5, fill: null}});

chart.setOption({graphic: G});
</script>
</body>
</html>
